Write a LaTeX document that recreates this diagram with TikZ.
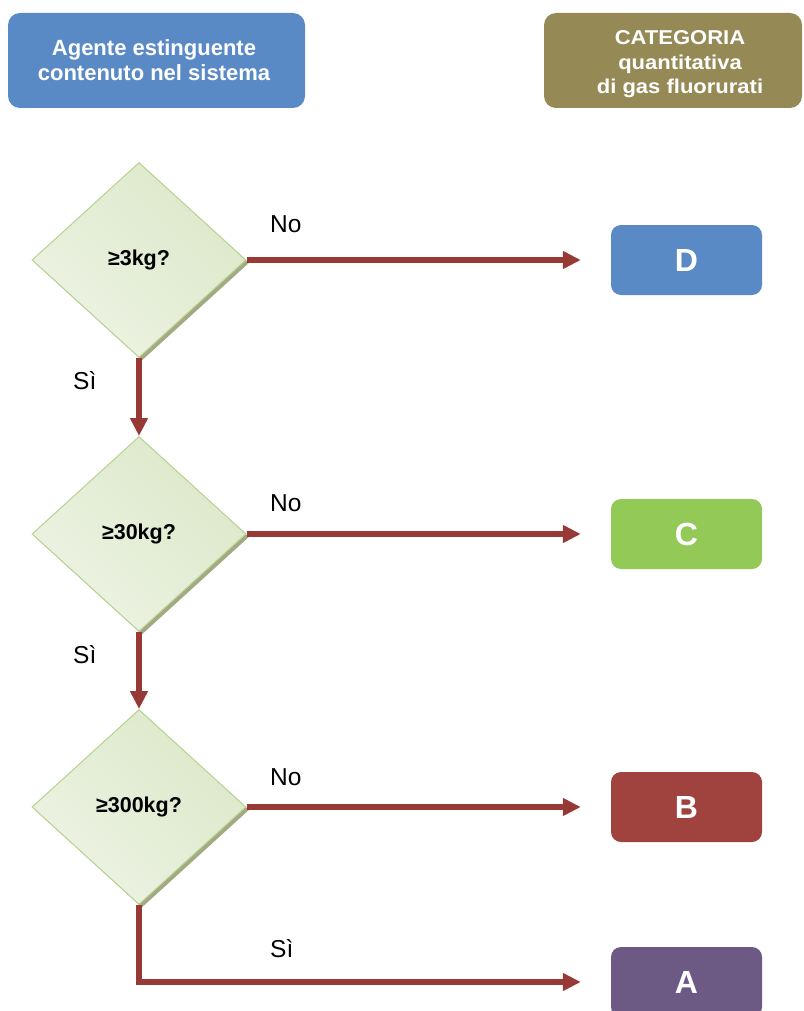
\documentclass[tikz,border=0pt]{standalone}
\usepackage{fontspec}
\setmainfont{Liberation Sans}
\newfontfamily\widefont[FakeStretch=1.1]{Liberation Sans}
\usetikzlibrary{shapes.geometric,arrows.meta,shadows,calc}
\definecolor{hblue}{HTML}{5A8AC6}
\definecolor{holive}{HTML}{958A55}
\definecolor{cgreen}{HTML}{92C957}
\definecolor{cred}{HTML}{A0423E}
\definecolor{cpurple}{HTML}{6D5A84}
\definecolor{arrred}{HTML}{973A36}
\definecolor{dborder}{HTML}{B7D290}
\definecolor{dlight}{HTML}{EDF3E4}
\definecolor{ddark}{HTML}{DCE8C9}
\definecolor{dshadow}{HTML}{A3A983}
\begin{document}
\begin{tikzpicture}[x=1pt,y=-1pt,
  header/.style={rounded corners=12pt, inner sep=0pt, text=white, align=center},
  catbox/.style={rounded corners=10pt, minimum width=151pt, minimum height=70pt, inner sep=0pt,
    text=white, font=\fontsize{32}{36}\selectfont\bfseries},
  decision/.style={diamond, minimum width=214pt, minimum height=195pt, inner sep=0pt,
    draw=dborder, line width=1pt, left color=dlight, right color=ddark, shading angle=135,
    drop shadow={shadow xshift=3pt, shadow yshift=-3pt, fill=dshadow, opacity=1},
    font=\fontsize{21.5}{24}\selectfont\bfseries},
  arr/.style={draw=arrred, line width=6pt, -{Triangle[length=18pt,width=17pt]}},
  lbl/.style={anchor=base west, inner sep=0pt, font=\fontsize{24.5}{28}\selectfont}
]
\useasboundingbox (0,0) rectangle (803,1011);

\node[header, fill=hblue, minimum width=297pt, minimum height=95pt,
  font=\fontsize{22}{25}\selectfont\bfseries] (h1) at (156.5,60.5)
  {Agente estinguente\hspace*{5pt}\\contenuto nel sistema\hspace*{5pt}};
\node[header, fill=holive, minimum width=258pt, minimum height=95pt,
  font=\widefont\fontsize{20}{24.5}\selectfont\bfseries] (h2) at (673,60.5)
  {\hspace*{14pt}\raisebox{0pt}[\dimexpr\height+8pt\relax][\depth]{\begin{tabular}{@{}c@{}}CATEGORIA\\quantitativa\\di gas fluorurati\end{tabular}}};

\node[decision] (d1) at (139,260) {≥3kg?};
\node[decision] (d2) at (139,534) {≥30kg?};
\node[decision] (d3) at (139,807) {≥300kg?};

\node[catbox, fill=hblue] (cD) at (686.5,260) {D};
\node[catbox, fill=cgreen] (cC) at (686.5,534) {C};
\node[catbox, fill=cred] (cB) at (686.5,807) {B};
\node[catbox, fill=cpurple] (cA) at (686.5,982) {A};

\draw[arr] (d1.east) -- ([xshift=-30pt]cD.west);
\draw[arr] (d2.east) -- ([xshift=-30pt]cC.west);
\draw[arr] (d3.east) -- ([xshift=-30pt]cB.west);
\draw[arr] (d1.south) -- (d2.north);
\draw[arr] (d2.south) -- (d3.north);
\draw[arr] (d3.south) |- ([xshift=-30pt]cA.west);

\node[lbl] (n1) at (270,232) {No};
\node[lbl] (n2) at (270,511) {No};
\node[lbl] (n3) at (270,785) {No};
\node[lbl] (s1) at (73,389) {Sì};
\node[lbl] (s2) at (73,663) {Sì};
\node[lbl] (s3) at (270,957) {Sì};
\end{tikzpicture}
\end{document}
